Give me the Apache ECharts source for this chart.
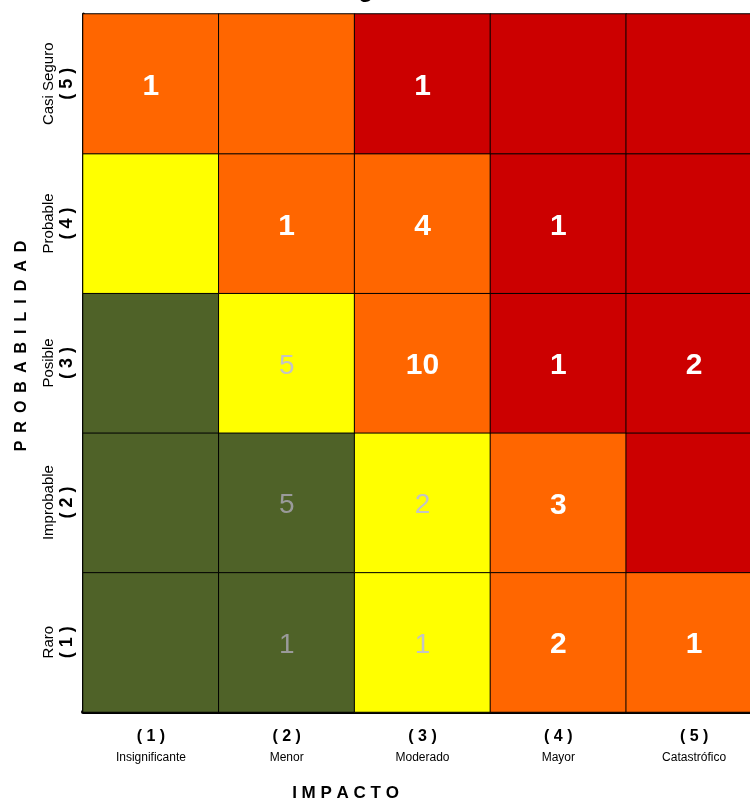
<!DOCTYPE html>
<html>
<head>
<meta charset="utf-8">
<script src="https://cdn.jsdelivr.net/npm/echarts@6/dist/echarts.min.js"></script>
<style>
  html, body { margin: 0; padding: 0; background: #fff; }
  #chart { width: 750px; height: 805px; }
</style>
</head>
<body>
<div id="chart"></div>
<script>
// ejes
const impactos = ['Insignificante', 'Menor', 'Moderado', 'Mayor', 'Catastrófico']
const probabilidades = ['Raro', 'Improbable', 'Posible', 'Probable', 'Casi Seguro'] // de abajo hacia arriba

// nivel de riesgo por celda (filas de abajo hacia arriba, columnas de izquierda a derecha)
const niveles = [
  ['bajo', 'bajo', 'moderado', 'alto', 'alto'],
  ['bajo', 'bajo', 'moderado', 'alto', 'extremo'],
  ['bajo', 'moderado', 'alto', 'extremo', 'extremo'],
  ['moderado', 'alto', 'alto', 'extremo', 'extremo'],
  ['alto', 'alto', 'extremo', 'extremo', 'extremo']
]

// cantidad de riesgos por celda (0 = vacia)
const conteos = [
  [0, 1, 1, 2, 1],
  [0, 5, 2, 3, 0],
  [0, 5, 10, 1, 2],
  [0, 1, 4, 1, 0],
  [1, 0, 1, 0, 0]
]

const colores = {
  bajo: '#4F6228',
  moderado: '#FFFF00',
  alto: '#FF6600',
  extremo: '#CC0000'
}

// estilo del numero segun el nivel
const etiquetas = {
  bajo: { color: '#9a9a9a', fontWeight: 'normal', fontSize: 28 },
  moderado: { color: '#c4c4c4', fontWeight: 'normal', fontSize: 28 },
  alto: { color: '#ffffff', fontWeight: 'bold', fontSize: 30 },
  extremo: { color: '#ffffff', fontWeight: 'bold', fontSize: 30 }
}

const datos = []
niveles.forEach((fila, y) => {
  fila.forEach((nivel, x) => {
    datos.push({
      value: [x, y, conteos[y][x]],
      itemStyle: { color: colores[nivel] },
      label: Object.assign({ fontFamily: 'Liberation Sans, Arial, sans-serif', offset: [0, 3] }, etiquetas[nivel])
    })
  })
})

const chart = echarts.init(document.getElementById('chart'), null, { renderer: 'canvas' })

chart.setOption({
  animation: false,
  backgroundColor: '#ffffff',
  title: {
    text: 'Matriz de Riesgo',
    left: 197,
    top: -22,
    padding: 0,
    textStyle: {
      fontFamily: 'Liberation Sans, Arial, sans-serif',
      fontSize: 24,
      fontWeight: 'bold',
      color: '#000'
    }
  },
  grid: {
    left: 83,
    top: 14,
    width: 679,
    height: 698,
    containLabel: false,
    outerBoundsMode: 'none'
  },
  xAxis: {
    type: 'category',
    data: impactos,
    position: 'bottom',
    axisLine: { show: true, onZero: false, lineStyle: { color: '#000', width: 4 } },
    axisTick: { show: false },
    splitLine: { show: false },
    axisLabel: {
      margin: 14,
      interval: 0,
      formatter: (v, i) => '{b|( ' + (i + 1) + ' )}\n{n|' + v + '}',
      rich: {
        b: {
          fontFamily: 'Liberation Sans Narrow, Arial Narrow, Liberation Sans, sans-serif',
          fontWeight: 'bold',
          fontSize: 16,
          lineHeight: 22,
          color: '#000'
        },
        n: {
          fontFamily: 'Liberation Sans Narrow, Arial Narrow, Liberation Sans, sans-serif',
          fontSize: 12,
          lineHeight: 20,
          color: '#000'
        }
      }
    },
    name: 'I M P A C T O',
    nameLocation: 'middle',
    nameGap: 73,
    nameTextStyle: {
      fontFamily: 'Liberation Sans Narrow, Arial Narrow, Liberation Sans, sans-serif',
      fontWeight: 'bold',
      fontSize: 17,
      color: '#000',
      padding: [0, 154, 0, 0]
    }
  },
  yAxis: {
    type: 'category',
    data: probabilidades,
    axisLine: { show: true, onZero: false, lineStyle: { color: '#000', width: 3 } },
    axisTick: { show: false },
    splitLine: { show: false },
    axisLabel: {
      rotate: 90,
      margin: 6,
      interval: 0,
      formatter: (v, i) => '{n|' + v + '}\n{b|( ' + (i + 1) + ' )}',
      rich: {
        n: {
          fontFamily: 'Liberation Sans, Arial, sans-serif',
          fontSize: 15,
          lineHeight: 17,
          color: '#000'
        },
        b: {
          fontFamily: 'Liberation Sans, Arial, sans-serif',
          fontWeight: 'bold',
          fontSize: 18,
          lineHeight: 20,
          color: '#000'
        }
      }
    },
    name: 'P\u2002R\u2002O\u2002B\u2002A\u2002B\u2002I\u2002L\u2002I\u2002D\u2002A\u2002D',
    nameLocation: 'middle',
    nameGap: 53,
    nameTextStyle: {
      fontFamily: 'Liberation Sans, Arial, sans-serif',
      fontWeight: 'bold',
      fontSize: 16,
      color: '#000',
      padding: [0, 0, 0, 34]
    }
  },
  series: [{
    type: 'heatmap',
    data: datos,
    itemStyle: { borderColor: '#000', borderWidth: 1 },
    label: {
      show: true,
      formatter: p => (p.value[2] ? String(p.value[2]) : '')
    },
    emphasis: { disabled: true }
  }]
})
</script>
</body>
</html>
